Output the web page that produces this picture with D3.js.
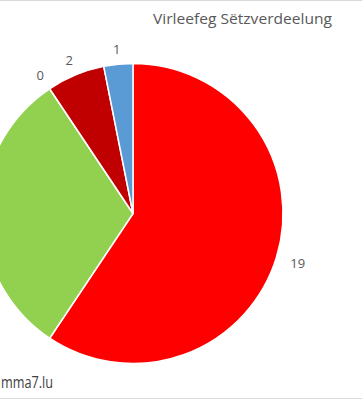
<!DOCTYPE html>
<html><head><meta charset="utf-8">
<script src="https://cdn.jsdelivr.net/npm/d3@7"></script>
<style>html,body{margin:0;padding:0;background:#fff;overflow:hidden}</style>
</head><body>
<svg id="c" width="362" height="400"></svg>
<script>
const categories = ["Rout", "Gréng", "Null", "Donkelrout", "Blo"];
const values = [19, 10, 0, 2, 1];
const labels = ["19", "10", "0", "2", "1"];
const colors = ["#FF0000", "#92D050", "#7F7F7F", "#C00000", "#5B9BD5"];
const title = "Virleefeg Sëtzverdeelung";
const watermark = "mma7.lu";

const W = 362, H = 400;
const svg = d3.select("#c");
svg.append("line").attr("x1",0).attr("x2",W).attr("y1",0.5).attr("y2",0.5).attr("stroke","#d9d9d9");
svg.append("line").attr("x1",0).attr("x2",W).attr("y1",398.5).attr("y2",398.5).attr("stroke","#d9d9d9");

const cx = 133, cy = 213.5, r = 150;
const pie = d3.pie().value(d => d).sort(null);
const arcs = pie(values);
const arc = d3.arc().innerRadius(0).outerRadius(r);
const g = svg.append("g").attr("transform", `translate(${cx},${cy})`);
g.selectAll("path").data(arcs).join("path")
  .attr("d", arc)
  .attr("fill", (d,i) => colors[i])
  .attr("stroke", "#fff").attr("stroke-width", 1.5).attr("stroke-linejoin","round");

const lab = g.selectAll("text.l").data(arcs).join("text")
  .attr("class","l")
  .attr("text-anchor","middle")
  .attr("dominant-baseline","central")
  .attr("font-family","'Open Sans', sans-serif")
  .attr("font-size", 13)
  .attr("fill","#595959")
  .text((d,i) => labels[i]);
lab.each(function(d){
  const a = (d.startAngle + d.endAngle)/2;
  const w = this.getComputedTextLength();
  const rr = r + 15 + (w/2)*Math.abs(Math.sin(a));
  const x = rr*Math.sin(a), y = -rr*Math.cos(a);
  // labels falling outside the visible frame (cropped in the original) are not drawn
  if (cx + x + w/2 <= 0 || cx + x - w/2 >= W) { d3.select(this).remove(); return; }
  d3.select(this).attr("x", x).attr("y", y);
});

svg.append("text").attr("x",153).attr("y",24)
  .attr("font-family","'Open Sans', sans-serif").attr("font-size",14)
  .attr("fill","#595959").attr("textLength",179).attr("lengthAdjust","spacingAndGlyphs")
  .text(title);

svg.append("text").attr("x",1).attr("y",388)
  .attr("font-family","'Open Sans', sans-serif").attr("font-size",16)
  .attr("fill","#404040").attr("textLength",52).attr("lengthAdjust","spacingAndGlyphs")
  .text(watermark);
</script>
</body></html>
